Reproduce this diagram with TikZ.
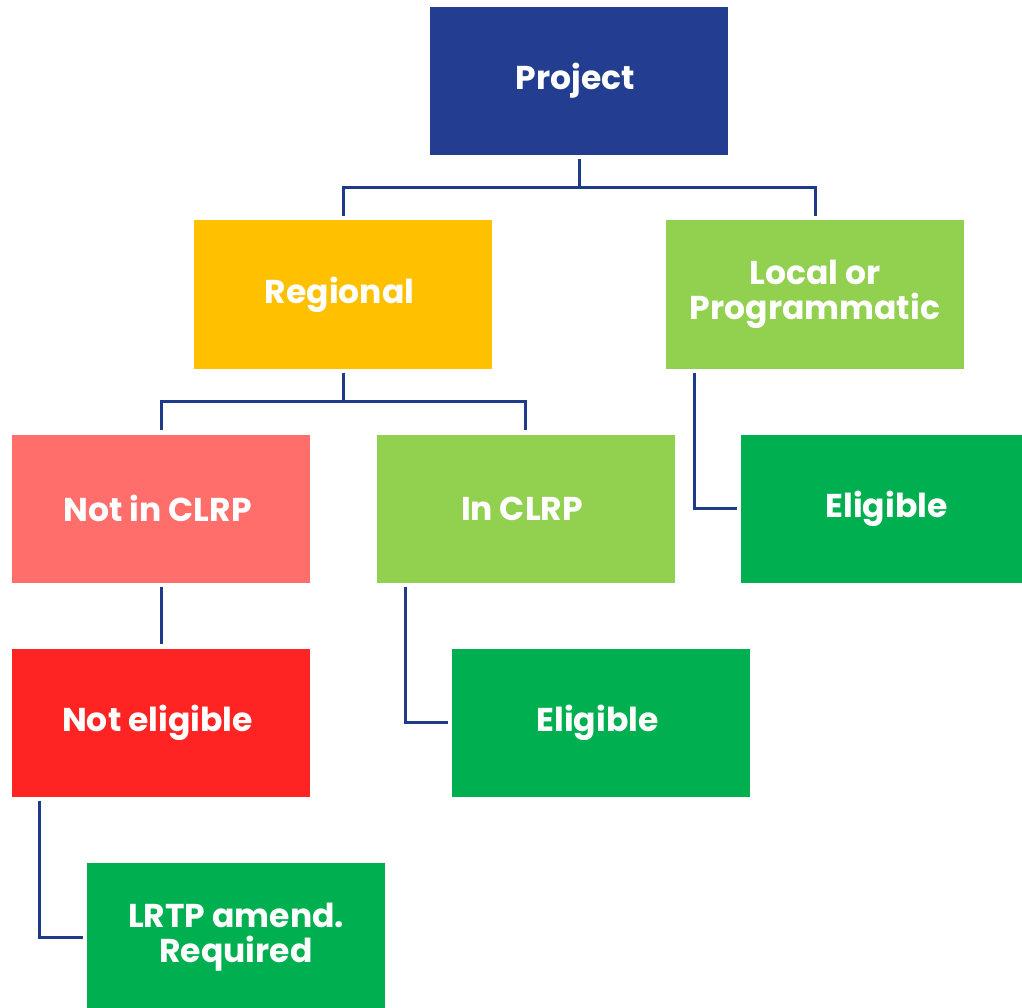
\documentclass[tikz,border=0pt]{standalone}
\usepackage{fontspec}
\setmainfont{Poppins}
\usepackage{tikz}
\usetikzlibrary{positioning}

\definecolor{ProjBlue}{RGB}{35,62,145}
\definecolor{LinkBlue}{RGB}{32,58,138}
\definecolor{RegAmber}{RGB}{255,192,0}
\definecolor{LightGreen}{RGB}{146,208,80}
\definecolor{OkGreen}{RGB}{0,176,80}
\definecolor{Salmon}{RGB}{255,110,106}
\definecolor{StopRed}{RGB}{255,36,36}

\begin{document}
\begin{tikzpicture}[x=1pt, y=1pt,
    box/.style={rectangle, minimum width=298pt, minimum height=148pt, inner sep=0pt,
      text=white, align=center, font=\fontsize{33}{35}\selectfont\bfseries},
    link/.style={draw=LinkBlue, line width=3pt, shorten <=4pt, shorten >=4pt}]

% page frame
\useasboundingbox (0, 0) rectangle (1022, -1008);

%% Boxes

% top
\node (proj) at (579, -81) [box, fill=ProjBlue] { Project };

% second level
\node (reg) at (343, -294.5) [box, fill=RegAmber] { Regional };
\node (loc) at (815, -294.5) [box, fill=LightGreen] { Local or\\Programmatic };

% third level
\node (notin) at (161, -508.5) [box, fill=Salmon] { Not in CLRP };
\node (incl) at (525.5, -508.5) [box, fill=LightGreen] { In CLRP };
\node (eligloc) at (890, -508.5) [box, fill=OkGreen] { Eligible };

% fourth level
\node (notelig) at (161, -722.5) [box, fill=StopRed] { Not eligible };
\node (eligreg) at (601, -722.5) [box, fill=OkGreen] { Eligible };

% last
\node (amend) at (236, -937) [box, fill=OkGreen] { LRTP amend.\\Required };

%% Links

% Project -> Regional / Local
\draw [link] (proj.south) -- ++(0, -32) -| (reg.north);
\draw [link] (proj.south) -- ++(0, -32) -| (loc.north);

% Regional -> Not in / In CLRP
\draw [link] (reg.south) -- ++(0, -33) -| (notin.north);
\draw [link] (reg.south) -- ++(0, -33) -| (incl.north);

% side links
\draw [link] ([xshift=29pt] loc.south west) |- (eligloc.west);
\draw [link] ([xshift=29pt] incl.south west) |- (eligreg.west);
\draw [link] ([xshift=28pt] notelig.south west) |- (amend.west);

% Not in CLRP -> Not eligible
\draw [link] (notin.south) -- (notelig.north);

\end{tikzpicture}
\end{document}
